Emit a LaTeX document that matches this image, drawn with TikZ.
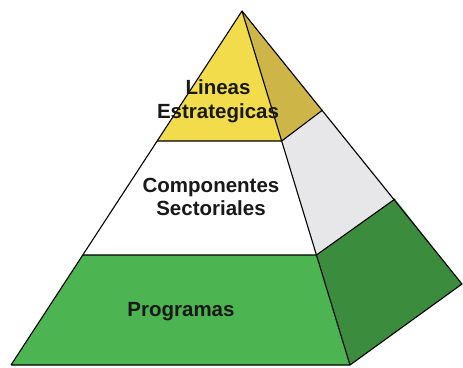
\documentclass[tikz,border=0pt]{standalone}
\usepackage{fontspec}
\setmainfont{Liberation Sans}
\begin{document}
\begin{tikzpicture}[x=1pt,y=-1pt,
  edge/.style={draw=black,line width=1.1pt,line join=round},
  lbl/.style={font=\fontsize{20.5}{23.5}\selectfont\bfseries,text=black!90,align=center,inner sep=0pt}]
\definecolor{yfront}{HTML}{F2DC4C}
\definecolor{yside}{HTML}{CDB547}
\definecolor{wfront}{HTML}{FFFFFF}
\definecolor{wside}{HTML}{E7E7E9}
\definecolor{gfront}{HTML}{4DB452}
\definecolor{gside}{HTML}{3B8C3D}
\useasboundingbox (0,0) rectangle (463,367);
\fill[white] (0,0) rectangle (463,367);
\coordinate (A) at (242,11);
\coordinate (L1) at (157.2,141);
\coordinate (L2) at (82.9,255);
\coordinate (L3) at (11,365);
\coordinate (R1) at (281.7,141);
\coordinate (R2) at (316.4,255);
\coordinate (R3) at (350,365);
\coordinate (B1) at (322.7,110);
\coordinate (B2) at (395,199);
\coordinate (B3) at (462,284);
% front face
\fill[yfront] (A) -- (L1) -- (R1) -- cycle;
\fill[wfront] (L1) -- (L2) -- (R2) -- (R1) -- cycle;
\fill[gfront] (L2) -- (L3) -- (R3) -- (R2) -- cycle;
% side face
\fill[yside] (A) -- (R1) -- (B1) -- cycle;
\fill[wside] (R1) -- (R2) -- (B2) -- (B1) -- cycle;
\fill[gside] (R2) -- (R3) -- (B3) -- (B2) -- cycle;
% edges
\draw[edge] (L3) -- (A) -- (B3) -- (R3) -- (L3);
\draw[edge] (A) -- (R3);
\draw[edge] (L1) -- (R1) -- (B1);
\draw[edge] (L2) -- (R2) -- (B2);
% labels
\node[lbl] (t1) at (218,101) {Lineas\\Estrategicas};
\node[lbl] (t2) at (211,197) {Componentes\\Sectoriales};
\node[lbl] (t3) at (181,312) {Programas};
\end{tikzpicture}
\end{document}
